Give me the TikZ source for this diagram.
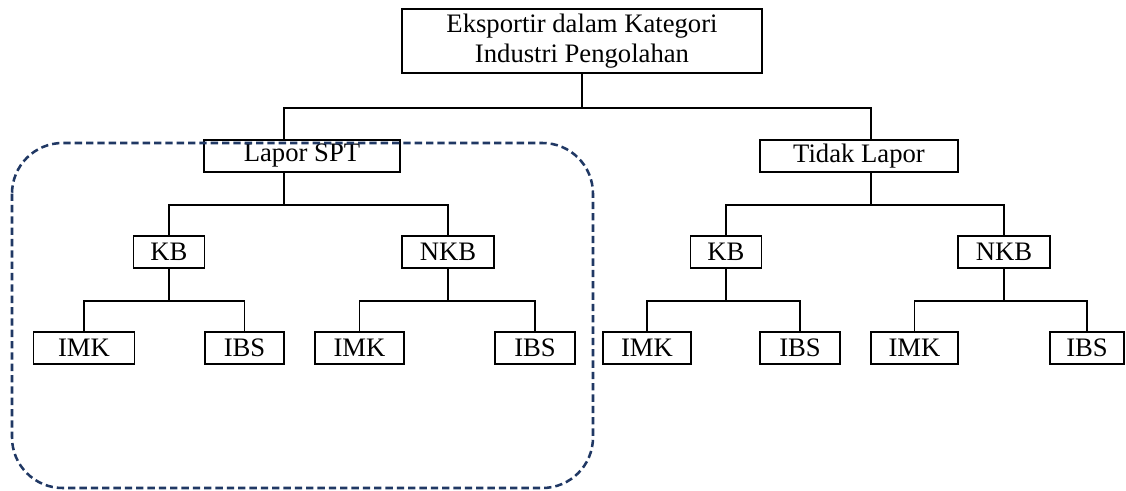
\documentclass[tikz,border=0pt]{standalone}
\usepackage{fontspec}
\setmainfont{Liberation Serif}
\usepackage{xcolor}
\usepackage{tikz}
\usetikzlibrary{calc}
\definecolor{navyc}{HTML}{203864}
\tikzset{
  blk/.style={draw,line width=1.4pt,inner sep=0pt,minimum height=24pt,align=center,font=\fontsize{20}{23}\selectfont},
  ln/.style={line width=1.4pt},
  grp/.style={draw=navyc,line width=1.9pt,dash pattern=on 5.5pt off 3pt,rounded corners=38pt}
}
\begin{document}
\begin{tikzpicture}[x=0.75pt,y=-0.75pt]
\useasboundingbox (0,0) rectangle (1126,491);
\node[blk,minimum width=270pt,minimum height=48pt] (top) at (582,41) {Eksportir dalam Kategori\\Industri Pengolahan};
\node[blk,minimum width=147pt] (lapor) at (302,156) {Lapor SPT};
\node[blk,minimum width=148.5pt] (tidak) at (859,156) {Tidak Lapor};
\node[blk,minimum width=53.25pt] (kbA) at (169,252) {KB};
\node[blk,minimum width=69pt] (nkbA) at (448,252) {NKB};
\node[blk,minimum width=53.25pt] (kbB) at (726,252) {KB};
\node[blk,minimum width=69pt] (nkbB) at (1004,252) {NKB};
\node[blk,minimum width=75.75pt] (imkA) at (84,348) {IMK};
\node[blk,minimum width=59.25pt] (ibsA) at (244.5,348) {IBS};
\node[blk,minimum width=66.75pt] (imkB) at (359.5,348) {IMK};
\node[blk,minimum width=60pt] (ibsB) at (535,348) {IBS};
\node[blk,minimum width=66pt] (imkC) at (647,348) {IMK};
\node[blk,minimum width=60pt] (ibsC) at (800,348) {IBS};
\node[blk,minimum width=65.25pt] (imkD) at (914.5,348) {IMK};
\node[blk,minimum width=55.5pt] (ibsD) at (1087,348) {IBS};
\coordinate (sL) at (284,0);
\coordinate (sT) at (871,0);
\draw[ln] (top.south) -- ++(0,34) coordinate (j0);
\draw[ln] (sL |- lapor.north) |- (j0) -| (sT |- tidak.north);
\draw[ln] (sL |- lapor.south) -- ++(0,32) coordinate (j1);
\draw[ln] (kbA.north) |- (j1) -| (nkbA.north);
\draw[ln] (sT |- tidak.south) -- ++(0,32) coordinate (j2);
\draw[ln] (kbB.north) |- (j2) -| (nkbB.north);
\foreach \p/\l/\r in {kbA/imkA/ibsA,nkbA/imkB/ibsB,kbB/imkC/ibsC,nkbB/imkD/ibsD}{
  \draw[ln] (\p.south) -- ++(0,32) coordinate (j\p);
  \draw[ln] (\l.north) |- (j\p) -| (\r.north);
}
\draw[grp] (12,143) rectangle (593,488);
\end{tikzpicture}
\end{document}
